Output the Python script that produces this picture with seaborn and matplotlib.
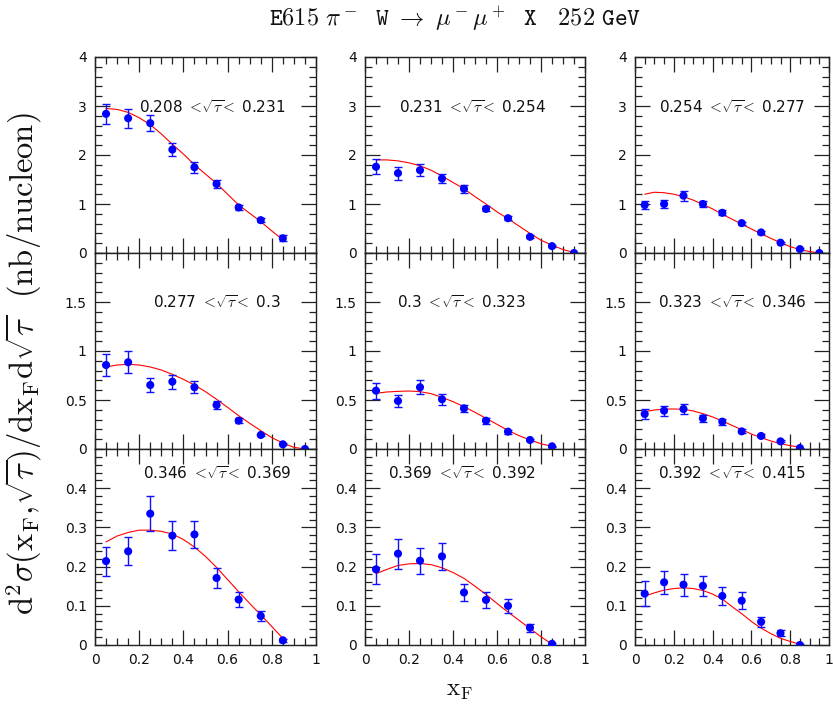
import matplotlib
matplotlib.use("Agg")
import matplotlib.pyplot as plt
import seaborn as sns
import pandas as pd
from matplotlib.ticker import MultipleLocator, FuncFormatter

# ---------------- data ----------------
xf = [0.05, 0.15, 0.25, 0.35, 0.45, 0.55, 0.65, 0.75, 0.85, 0.95]
curve_x = [0.05, 0.10, 0.15, 0.20, 0.25, 0.30, 0.35, 0.40, 0.45, 0.50,
           0.55, 0.60, 0.65, 0.70, 0.75, 0.80, 0.85, 0.90, 0.95]

tau_lo = ["0.208", "0.231", "0.254", "0.277", "0.3", "0.323", "0.346", "0.369", "0.392"]
tau_hi = ["0.231", "0.254", "0.277", "0.3", "0.323", "0.346", "0.369", "0.392", "0.415"]

p1_y = [2.84, 2.75, 2.65, 2.11, 1.75, 1.41, 0.93, 0.67, 0.30]
p1_e = [0.21, 0.19, 0.17, 0.13, 0.11, 0.09, 0.05, 0.04, 0.06]
p1_c = [2.95, 2.93, 2.87, 2.76, 2.62, 2.43, 2.22, 2.02, 1.80, 1.61, 1.42, 1.20, 0.98, 0.81, 0.64, 0.45, 0.27]

p2_y = [1.76, 1.63, 1.69, 1.52, 1.31, 0.90, 0.71, 0.33, 0.14, 0.00]
p2_e = [0.15, 0.13, 0.12, 0.10, 0.08, 0.05, 0.04, 0.03, 0.02, 0.01]
p2_c = [1.90, 1.90, 1.88, 1.84, 1.78, 1.69, 1.57, 1.44, 1.31, 1.15, 1.00, 0.84, 0.70, 0.55, 0.40, 0.26, 0.16, 0.07, 0.01]

p3_y = [0.98, 1.00, 1.17, 1.00, 0.82, 0.61, 0.42, 0.21, 0.08, 0.00]
p3_e = [0.09, 0.08, 0.10, 0.07, 0.05, 0.03, 0.03, 0.02, 0.02, 0.01]
p3_c = [1.20, 1.24, 1.23, 1.20, 1.15, 1.08, 0.99, 0.90, 0.79, 0.69, 0.59, 0.49, 0.39, 0.30, 0.21, 0.13, 0.07, 0.03, 0.00]

p4_y = [0.857, 0.885, 0.653, 0.687, 0.630, 0.449, 0.289, 0.143, 0.048, 0.000]
p4_e = [0.11, 0.11, 0.075, 0.07, 0.06, 0.045, 0.025, 0.015, 0.01, 0.005]
p4_c = [0.837, 0.857, 0.864, 0.857, 0.837, 0.806, 0.762, 0.711, 0.653, 0.585, 0.507, 0.425, 0.340, 0.262, 0.187, 0.116, 0.061, 0.017, 0.000]

p5_y = [0.595, 0.490, 0.630, 0.507, 0.415, 0.289, 0.177, 0.092, 0.027]
p5_e = [0.08, 0.06, 0.07, 0.055, 0.035, 0.03, 0.02, 0.01, 0.005]
p5_c = [0.568, 0.582, 0.588, 0.592, 0.585, 0.565, 0.527, 0.483, 0.432, 0.374, 0.313, 0.252, 0.190, 0.136, 0.092, 0.054, 0.027]

p6_y = [0.357, 0.391, 0.408, 0.313, 0.279, 0.180, 0.133, 0.078, 0.010]
p6_e = [0.055, 0.05, 0.05, 0.035, 0.03, 0.02, 0.015, 0.01, 0.005]
p6_c = [0.381, 0.398, 0.408, 0.408, 0.405, 0.388, 0.361, 0.327, 0.286, 0.241, 0.197, 0.153, 0.116, 0.082, 0.054, 0.034, 0.020]

p7_y = [0.214, 0.239, 0.335, 0.279, 0.282, 0.171, 0.116, 0.074, 0.012]
p7_e = [0.037, 0.036, 0.045, 0.037, 0.035, 0.025, 0.019, 0.014, 0.004]
p7_c = [0.263, 0.278, 0.287, 0.293, 0.293, 0.290, 0.283, 0.269, 0.250, 0.226, 0.198, 0.167, 0.136, 0.106, 0.077, 0.047, 0.017]

p8_y = [0.193, 0.233, 0.215, 0.226, 0.134, 0.115, 0.100, 0.044, 0.003]
p8_e = [0.038, 0.038, 0.033, 0.035, 0.022, 0.020, 0.018, 0.010, 0.003]
p8_c = [0.182, 0.193, 0.203, 0.207, 0.208, 0.205, 0.197, 0.185, 0.170, 0.150, 0.129, 0.106, 0.084, 0.063, 0.042, 0.021, 0.002]

p9_y = [0.131, 0.160, 0.154, 0.151, 0.125, 0.113, 0.059, 0.030, 0.000]
p9_e = [0.032, 0.029, 0.028, 0.026, 0.022, 0.022, 0.013, 0.008, 0.003]
p9_c = [0.125, 0.133, 0.140, 0.144, 0.146, 0.144, 0.139, 0.130, 0.117, 0.098, 0.080, 0.060, 0.043, 0.029, 0.017, 0.009, 0.002]

panels_y = [p1_y, p2_y, p3_y, p4_y, p5_y, p6_y, p7_y, p8_y, p9_y]
panels_e = [p1_e, p2_e, p3_e, p4_e, p5_e, p6_e, p7_e, p8_e, p9_e]
panels_c = [p1_c, p2_c, p3_c, p4_c, p5_c, p6_c, p7_c, p8_c, p9_c]

xticks = [0, 0.2, 0.4, 0.6, 0.8, 1]
row_yticks = [[0, 1, 2, 3, 4], [0, 0.5, 1, 1.5], [0, 0.1, 0.2, 0.3, 0.4]]

# ---------------- style ----------------
sns.set_style("ticks")
plt.rcParams["font.family"] = ["DejaVu Sans"]
plt.rcParams["mathtext.fontset"] = "cm"

W, H = 833, 708
fig = plt.figure(figsize=(W / 100, H / 100), dpi=100)

cols = [(95, 316), (365, 585), (635, 829)]
rows = [(57, 253), (253, 449), (449, 645)]
row_ymax = [4.0, 2.0, 0.5]
row_minor = [0.2, 0.1, 0.02]
label_pos_x = [0.53, 0.487, 0.50, 0.55, 0.44, 0.50, 0.555, 0.44, 0.50]
label_pos_y = [2.98, 1.50, 0.438]

fmt = FuncFormatter(lambda v, p: "%g" % round(v, 3))
frame_col = "#222222"

for i in range(9):
    r, c = divmod(i, 3)
    x0, x1 = cols[c]
    y0, y1 = rows[r]
    ax = fig.add_axes([x0 / W, 1 - y1 / H, (x1 - x0) / W, (y1 - y0) / H])
    ax.set_facecolor("white")

    n = len(panels_y[i])
    df = pd.DataFrame({"xf": xf[:n], "y": panels_y[i], "e": panels_e[i]})
    m = len(panels_c[i])
    dc = pd.DataFrame({"x": curve_x[:m], "y": panels_c[i]})

    sns.lineplot(data=dc, x="x", y="y", ax=ax, color="#ff0000", lw=0.8,
                 sort=False, estimator=None, zorder=2)
    ax.errorbar(df["xf"], df["y"], yerr=df["e"], fmt="none", ecolor="#1010ff",
                elinewidth=1.0, capsize=3.2, capthick=1.0, zorder=3)
    sns.scatterplot(data=df, x="xf", y="y", ax=ax, color="#0000ff", s=34,
                    edgecolor="none", linewidth=0, zorder=4)

    ax.set_xticks(xticks)
    ax.set_yticks(row_yticks[r])
    ax.xaxis.set_minor_locator(MultipleLocator(0.05))
    ax.yaxis.set_minor_locator(MultipleLocator(row_minor[r]))
    ax.set_xlim(0, 1)
    ax.set_ylim(0, row_ymax[r])
    ax.tick_params(which="both", direction="in", top=True, right=True,
                   color=frame_col, width=0.9, labelsize=10, labelcolor="#111111")
    ax.tick_params(which="major", length=10.8, pad=6)
    ax.tick_params(which="minor", length=5.0)
    ax.yaxis.set_major_formatter(fmt)
    ax.xaxis.set_major_formatter(fmt)
    if r < 2:
        ax.tick_params(axis="x", labelbottom=False)
    ax.set_xlabel("")
    ax.set_ylabel("")
    for s in ax.spines.values():
        s.set_color(frame_col)
        s.set_linewidth(1.0)
    lbl = tau_lo[i] + r" $<\!\sqrt{\tau}\!<$ " + tau_hi[i]
    ax.text(label_pos_x[i], label_pos_y[r], lbl, ha="center", va="center",
            fontsize=11, color="#111111", zorder=5)

fig.text(0.546, 0.972,
         r"$\mathtt{E615}\ \pi^-\ \ \mathtt{W}\ \rightarrow\ \mu^-\mu^+\ \ \mathtt{X}\ \ \ \mathtt{252\ GeV}$",
         ha="center", va="center", fontsize=17.5, color="#111111")
fig.text(0.028, 0.486,
         r"$\mathrm{d}^2\sigma(\mathrm{x_F},\!\sqrt{\tau})/\mathrm{dx_F d}\sqrt{\tau}\ \ \mathrm{(nb/nucleon)}$",
         rotation=90, ha="center", va="center", fontsize=23.5, color="#111111")
fig.text(0.552, 0.025, r"$\mathrm{x_F}$", ha="center", va="center",
         fontsize=18, color="#111111")

fig.savefig("out.png", dpi=100, facecolor="white")
